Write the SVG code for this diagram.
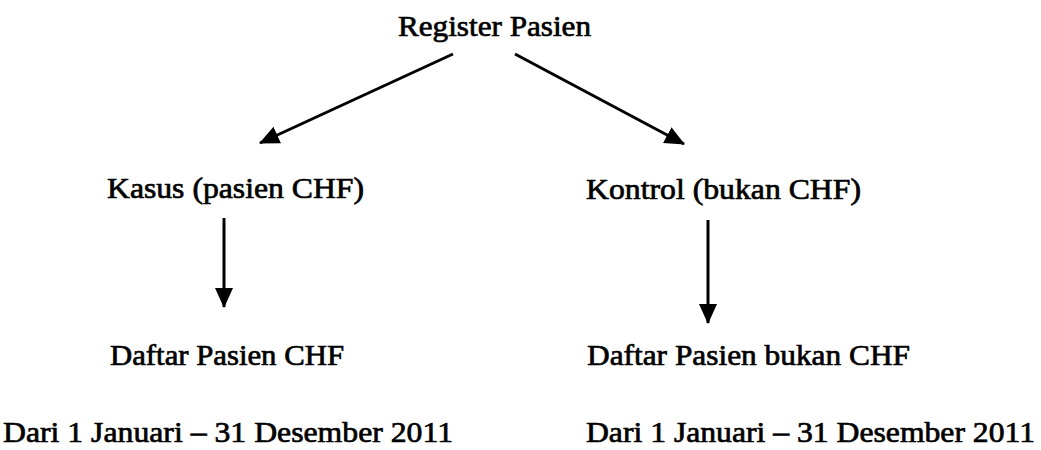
<svg xmlns="http://www.w3.org/2000/svg" width="1041" height="450" viewBox="0 0 1041 450">
<defs>
<style>
.lbl{font-family:'Liberation Serif','DejaVu Serif',serif;font-size:30px;fill:#000;stroke:#000;stroke-width:0.7}
.edge{stroke:#000;stroke-width:3;fill:none}
</style>
<marker id="ah" viewBox="0 0 20 20" refX="19" refY="10" markerWidth="20" markerHeight="20" markerUnits="userSpaceOnUse" orient="auto">
<path d="M0,1 L20,10 L0,19 z" fill="#000"/>
</marker>
</defs>
<rect width="1041" height="450" fill="#fff"/>
<g id="connectors">
<line class="edge" x1="453" y1="54" x2="260" y2="143" marker-end="url(#ah)"/>
<line class="edge" x1="515" y1="54" x2="684" y2="144" marker-end="url(#ah)"/>
<line class="edge" x1="224" y1="218" x2="224" y2="307" marker-end="url(#ah)"/>
<line class="edge" x1="708" y1="220" x2="708" y2="323" marker-end="url(#ah)"/>
</g>
<g id="register"><text class="lbl" x="398" y="36" textLength="193" lengthAdjust="spacingAndGlyphs">Register Pasien</text></g>
<g id="kasus"><text class="lbl" x="107" y="198" textLength="257" lengthAdjust="spacingAndGlyphs">Kasus (pasien CHF)</text></g>
<g id="kontrol"><text class="lbl" x="586" y="199" textLength="275" lengthAdjust="spacingAndGlyphs">Kontrol (bukan CHF)</text></g>
<g id="daftar-chf"><text class="lbl" x="110" y="365" textLength="234" lengthAdjust="spacingAndGlyphs">Daftar Pasien CHF</text></g>
<g id="daftar-bukan"><text class="lbl" x="587" y="365" textLength="323" lengthAdjust="spacingAndGlyphs">Daftar Pasien bukan CHF</text></g>
<g id="periode-kasus"><text class="lbl" x="3" y="442" textLength="450" lengthAdjust="spacingAndGlyphs">Dari 1 Januari – 31 Desember 2011</text></g>
<g id="periode-kontrol"><text class="lbl" x="586" y="442" textLength="449" lengthAdjust="spacingAndGlyphs">Dari 1 Januari – 31 Desember 2011</text></g>
</svg>
